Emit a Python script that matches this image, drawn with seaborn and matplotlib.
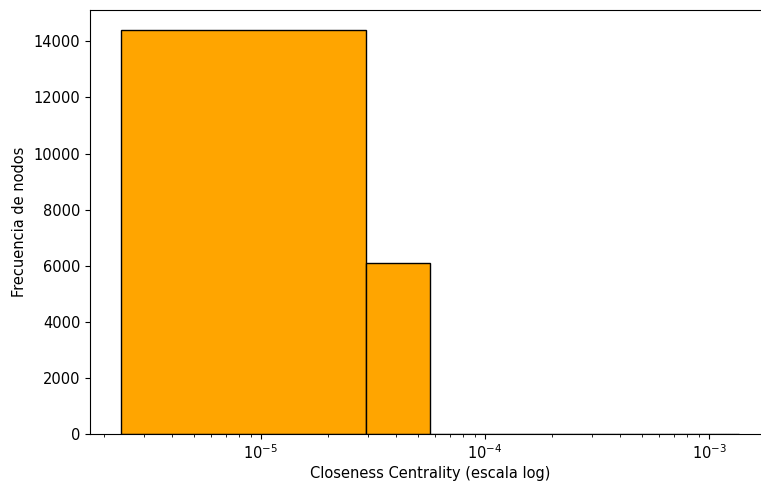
import numpy as np
import pandas as pd
import matplotlib
matplotlib.use("Agg")
import matplotlib.pyplot as plt
import seaborn as sns

# Histogram of closeness centrality: 50 equal-width bins on a linear grid
bin_start = 2.37e-6
bin_width = 2.72e-5
node_counts = [14400, 6110, 9, 5, 3, 2, 2, 1, 1, 1,
               1, 0, 0, 1, 0, 0, 0, 0, 0, 0,
               0, 0, 0, 0, 0, 0, 0, 0, 0, 0,
               0, 0, 0, 0, 0, 0, 0, 0, 0, 0,
               0, 0, 0, 0, 0, 0, 0, 0, 0, 1]

n_bins = len(node_counts)
bin_end = bin_start + bin_width * n_bins
edges = bin_start + bin_width * np.arange(n_bins + 1)
df = pd.DataFrame({
    "closeness": (edges[:-1] + edges[1:]) / 2,
    "count": np.asarray(node_counts, dtype=float),
})

plt.rcParams["font.family"] = ["DejaVu Sans"]
plt.rcParams["font.size"] = 10.5

fig = plt.figure(figsize=(7.61, 4.87), dpi=100)
ax = fig.add_axes([90 / 761, 53 / 487, 680 / 761, 424 / 487])

sns.histplot(data=df, x="closeness", weights="count", bins=n_bins,
             binrange=(bin_start, bin_end),
             color="orange", edgecolor="black", linewidth=1.0, alpha=1.0,
             ax=ax)
ax.set_xscale("log")
ax.relim()
ax.autoscale(axis="x")

ax.set_xlabel("Closeness Centrality (escala log)", labelpad=2.5)
ax.set_ylabel("Frecuencia de nodos", labelpad=5)

fig.savefig("out.png", dpi=100)
